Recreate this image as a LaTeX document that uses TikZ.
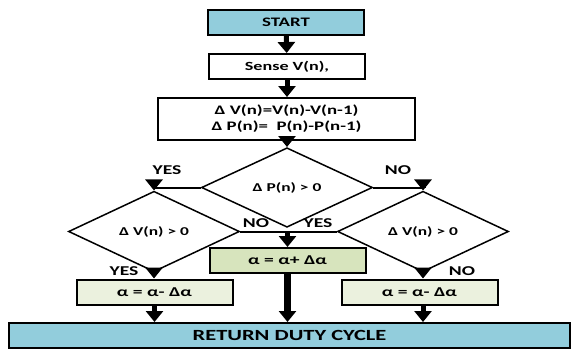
\documentclass[tikz,border=0pt]{standalone}
\usepackage{fontspec}
\setmainfont[FakeStretch=1.45]{Carlito}
\usetikzlibrary{shapes.geometric,arrows.meta}
\definecolor{termblue}{HTML}{92CDDC}
\definecolor{incgreen}{HTML}{D7E4BD}
\definecolor{decgreen}{HTML}{EBF1DE}
\newcommand{\fsz}[1]{\fontsize{#1}{#1}\selectfont\bfseries}
\begin{document}
\begin{tikzpicture}[x=1pt,y=-1pt,
  box/.style={draw,line width=2pt,minimum width=156pt,minimum height=25pt,inner sep=0pt,font=\fsz{12.5}},
  term/.style={box,fill=termblue},
  dec/.style={draw,diamond,line width=1.5pt,minimum width=171pt,minimum height=59pt,inner sep=0pt,font=\fsz{12}},
  arr/.style={line width=5pt,-{Triangle[width=17pt,length=11pt]}},
  link/.style={line width=2pt},
  lbl/.style={font=\fsz{13.5}}]
\useasboundingbox (0,0) rectangle (573,349);
\node[term,font=\fsz{13}] (start) at (286,22.5) {START};
\node[box] (sense) at (287,66.5) {Sense V(n),};
\node[box,minimum width=257pt,minimum height=42pt,align=center,font=\fsz{13}] (delta) at (286.5,119)
  {Δ V(n)=V(n)-V(n-1)\\[3pt]Δ P(n)=\ \ P(n)-P(n-1)};
\node[dec] (dP) at (287,187.5) {Δ P(n) > 0};
\node[dec] (dVl) at (154,231.5) {Δ V(n) > 0};
\node[dec] (dVr) at (423,231.5) {Δ V(n) > 0};
\node[box,fill=incgreen,font=\fsz{13.5}] (inc) at (287.5,260.5) {α = α+ Δα};
\node[box,fill=decgreen,font=\fsz{13.5}] (decl) at (154.5,292) {α = α- Δα};
\node[box,fill=decgreen,font=\fsz{13.5}] (decr) at (419.5,292) {α = α- Δα};
\node[term,minimum width=561pt,font=\fsz{15.5}] (ret) at (289.5,335.5) {RETURN DUTY CYCLE};
% labels
\node[lbl] (yP) at (167,170) {YES};
\node[lbl] (nP) at (398,170) {NO};
\node[lbl] (nVl) at (256,223) {NO};
\node[lbl] (yVr) at (318,223) {YES};
\node[lbl] (yVl) at (124,271) {YES};
\node[lbl] (nVr) at (462,271) {NO};
% connectors
\draw[arr] (start) -- (sense);
\draw[arr] (sense) -- (sense.south |- delta.north);
\draw[arr] (delta.south -| dP.north) -- (dP.north);
\draw[link] (dP.west) -- (dP.west -| dVl.north);
\draw[arr] (dP.west -| dVl.north) -- (dVl.north);
\draw[link] (dP.east) -- (dP.east -| dVr.north);
\draw[arr] (dP.east -| dVr.north) -- (dVr.north);
\draw[link] (dVl.east) -- (dVr.west);
\draw[arr] (dVl.east -| inc.north) -- (inc.north);
\draw[arr] (dVl.south) -- (dVl.south |- decl.north);
\draw[arr] (dVr.south) -- (dVr.south |- decr.north);
\draw[arr,line width=6.5pt] (inc.south) -- (inc.south |- ret.north);
\draw[arr] (decl.south) -- (decl.south |- ret.north);
\draw[arr] (decr.south -| dVr.south) -- (dVr.south |- ret.north);
\end{tikzpicture}
\end{document}
